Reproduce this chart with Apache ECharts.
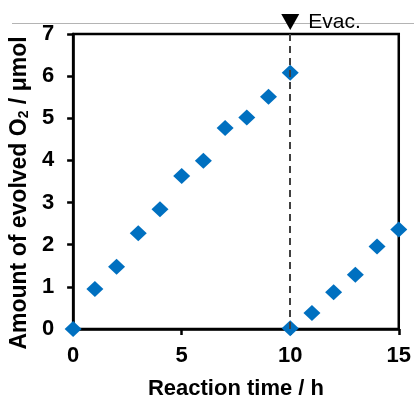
<!DOCTYPE html>
<html>
<head>
<meta charset="utf-8">
<script src="https://cdn.jsdelivr.net/npm/echarts@6/dist/echarts.min.js"></script>
<style>
html,body{margin:0;padding:0;background:#fff;}
#chart{width:414px;height:405px;}
</style>
</head>
<body>
<div id="chart"></div>
<script>
// Reaction time (h) and evolved O2 (µmol)
var timeRun1 = [0, 1, 2, 3, 4, 5, 6, 7, 8, 9, 10];
var o2Run1 = [0, 0.95, 1.48, 2.27, 2.84, 3.63, 3.99, 4.77, 5.02, 5.51, 6.08];
var timeRun2 = [10, 11, 12, 13, 14, 15];
var o2Run2 = [0.02, 0.38, 0.87, 1.29, 1.96, 2.36];
var xTicks = [0, 5, 10, 15];
var yTicks = [0, 1, 2, 3, 4, 5, 6, 7];
var evacTime = 10;
var evacLabel = 'Evac.';
var xTitle = 'Reaction time / h';
var yTitle = 'Amount of evolved O{sub|2} / μmol';

var FONT = '"Liberation Sans", Arial, sans-serif';
var BLUE = '#0070C0';

function pairs(xs, ys) { return xs.map(function (x, i) { return [x, ys[i]]; }); }

var chart = echarts.init(document.getElementById('chart'), null, { renderer: 'canvas' });
chart.setOption({
  animation: false,
  backgroundColor: '#fff',
  grid: {
    left: 73, right: 13, top: 34, bottom: 67,
    show: true, borderColor: '#000', borderWidth: 2.5, backgroundColor: 'transparent'
  },
  graphic: [{
    type: 'line', z: 0,
    shape: { x1: 12, y1: 23.5, x2: 414, y2: 23.5 },
    style: { stroke: '#b4b4b4', lineWidth: 1 }
  }],
  xAxis: {
    type: 'value', min: xTicks[0], max: xTicks[xTicks.length - 1], interval: 5,
    name: xTitle, nameLocation: 'middle', nameGap: 49,
    nameTextStyle: { fontFamily: FONT, fontSize: 22, fontWeight: 'bold', color: '#000' },
    axisLine: { lineStyle: { color: '#000', width: 2.5 } },
    axisTick: { inside: false, length: 6, lineStyle: { color: '#000', width: 2.5 } },
    axisLabel: { fontFamily: FONT, fontSize: 22, fontWeight: 'bold', color: '#000', margin: 16 },
    splitLine: { show: false }
  },
  yAxis: {
    type: 'value', min: yTicks[0], max: yTicks[yTicks.length - 1], interval: 1,
    name: yTitle, nameLocation: 'middle', nameGap: 32, nameRotate: 90,
    nameTextStyle: {
      fontFamily: FONT, fontSize: 23, fontWeight: 'bold', color: '#000', lineHeight: 23,
      padding: [0, 23, 0, 0],
      rich: { sub: { fontFamily: FONT, fontSize: 14, fontWeight: 'bold', color: '#000', verticalAlign: 'bottom', lineHeight: 14 } }
    },
    axisLine: { lineStyle: { color: '#000', width: 2.5 } },
    axisTick: { inside: false, length: 6, lineStyle: { color: '#000', width: 2.5 } },
    axisLabel: { fontFamily: FONT, fontSize: 22, fontWeight: 'bold', color: '#000', margin: 19 },
    splitLine: { show: false }
  },
  series: [{
    type: 'scatter', clip: false,
    symbol: 'diamond', symbolSize: [17, 16],
    itemStyle: { color: BLUE, opacity: 1 },
    data: pairs(timeRun1, o2Run1),
    markLine: {
      silent: true, symbol: ['none', 'none'],
      label: { show: false },
      lineStyle: { color: '#404040', width: 2, type: [7, 5] },
      data: [{ xAxis: evacTime }]
    },
    markPoint: {
      silent: true,
      symbol: 'path://M0,0 L18,0 L9,16 Z',
      symbolSize: [18, 16],
      symbolOffset: [0, -12],
      itemStyle: { color: '#000' },
      label: {
        show: true, position: 'right', distance: 9,
        formatter: evacLabel,
        fontFamily: FONT, fontSize: 21, color: '#000'
      },
      data: [{ coord: [evacTime, yTicks[yTicks.length - 1]] }]
    }
  }, {
    type: 'scatter', clip: false,
    symbol: 'diamond', symbolSize: [17, 16],
    itemStyle: { color: BLUE, opacity: 1 },
    data: pairs(timeRun2, o2Run2)
  }]
});
</script>
</body>
</html>
